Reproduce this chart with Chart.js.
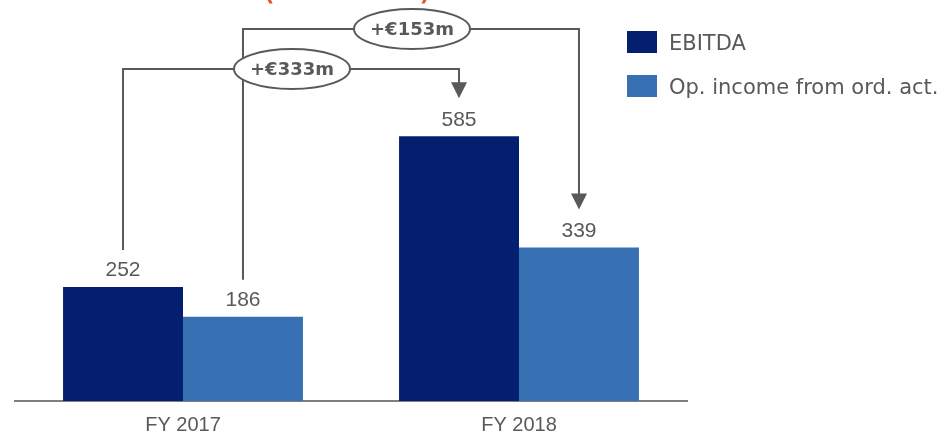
<!DOCTYPE html>
<html>
<head>
<meta charset="utf-8">
<script src="https://cdn.jsdelivr.net/npm/chart.js@4/dist/chart.umd.min.js"></script>
<style>
  html, body { margin: 0; padding: 0; background: #fff; }
  #wrap { position: relative; width: 942px; height: 434px; }
</style>
</head>
<body>
<div id="wrap"><canvas id="chart"></canvas></div>
<script>
// Values (EUR m)
const categories = ['FY 2017', 'FY 2018'];
const seriesNames = ['EBITDA', 'Op. income from ord. act.'];
const ebitda = [252, 585];
const opIncome = [186, 339];
const bridgeLabels = ['+€333m', '+€153m'];

const navy = '#041f6f';
const blue = '#3870b4';
const grey = '#595959';
const textFont = '"DejaVu Sans", sans-serif';
const numFont = '"Liberation Sans Narrow", "Liberation Sans", sans-serif';

// value labels above each bar
const valueLabels = {
    id: 'valueLabels',
    afterDatasetsDraw(chart) {
        const ctx = chart.ctx;
        ctx.save();
        ctx.fillStyle = grey;
        ctx.font = '21px ' + numFont;
        ctx.textAlign = 'center';
        ctx.textBaseline = 'bottom';
        chart.data.datasets.forEach((ds, d) => {
            chart.getDatasetMeta(d).data.forEach((bar, i) => {
                ctx.fillText(ds.data[i], bar.x, bar.y - 6);
            });
        });
        ctx.restore();
    }
};

// elbow connectors with the growth bubbles
const bridges = {
    id: 'bridges',
    afterDraw(chart) {
        const ctx = chart.ctx;
        const levels = [69, 29];
        const bubbleX = [292, 412];
        ctx.save();
        ctx.strokeStyle = grey;
        ctx.fillStyle = grey;
        ctx.lineWidth = 2;
        [0, 1].forEach(d => {
            const bars = chart.getDatasetMeta(d).data;
            const a = bars[0], b = bars[1];
            const yTop = levels[d];
            const tipY = b.y - 38;
            ctx.beginPath();
            ctx.moveTo(a.x, a.y - 37);
            ctx.lineTo(a.x, yTop);
            ctx.lineTo(b.x, yTop);
            ctx.lineTo(b.x, tipY - 15);
            ctx.stroke();
            ctx.beginPath();
            ctx.moveTo(b.x - 8, tipY - 16);
            ctx.lineTo(b.x + 8, tipY - 16);
            ctx.lineTo(b.x, tipY);
            ctx.closePath();
            ctx.fill();
        });
        // bubbles drawn last so they sit over the lines
        [0, 1].forEach(d => {
            ctx.beginPath();
            ctx.ellipse(bubbleX[d], levels[d], 58, 20, 0, 0, Math.PI * 2);
            ctx.fillStyle = '#fff';
            ctx.fill();
            ctx.stroke();
            ctx.fillStyle = grey;
            ctx.font = 'bold 18px ' + textFont;
            ctx.textAlign = 'center';
            ctx.textBaseline = 'middle';
            ctx.fillText(bridgeLabels[d], bubbleX[d], levels[d] + 1);
        });
        // headline brackets running off the top edge
        ctx.fillStyle = '#e0522b';
        ctx.font = '40px ' + textFont;
        ctx.textBaseline = 'alphabetic';
        ctx.textAlign = 'center';
        ctx.fillText('(', 268, -2);
        ctx.fillText(')', 426, -2);
        ctx.restore();
    }
};

// legend block on the right
const sideLegend = {
    id: 'sideLegend',
    afterDraw(chart) {
        const ctx = chart.ctx;
        ctx.save();
        chart.data.datasets.forEach((ds, d) => {
            const y = 31 + d * 44;
            ctx.fillStyle = ds.backgroundColor;
            ctx.fillRect(627, y, 30, 22);
            ctx.fillStyle = grey;
            ctx.font = '21px ' + textFont;
            ctx.textBaseline = 'middle';
            ctx.fillText(ds.label, 669, y + 14);
        });
        ctx.restore();
    }
};

new Chart(document.getElementById('chart'), {
    type: 'bar',
    data: {
        labels: categories,
        datasets: [
            { label: seriesNames[0], data: ebitda, backgroundColor: navy },
            { label: seriesNames[1], data: opIncome, backgroundColor: blue }
        ]
    },
    options: {
        responsive: true,
        maintainAspectRatio: false,
        animation: false,
        datasets: { bar: { barPercentage: 1, categoryPercentage: 0.714 } },
        layout: { padding: { left: 15, right: 255, top: 0, bottom: 0 } },
        plugins: { legend: { display: false }, tooltip: { enabled: false } },
        scales: {
            x: {
                grid: { display: false },
                border: { display: true, color: '#7f7f7f', width: 2 },
                ticks: { color: grey, font: { family: numFont, size: 20 }, padding: 4 },
                afterFit(scale) { scale.height = 33; }
            },
            y: { display: false, min: 0, max: 886 }
        }
    },
    plugins: [valueLabels, bridges, sideLegend]
});
</script>
</body>
</html>
